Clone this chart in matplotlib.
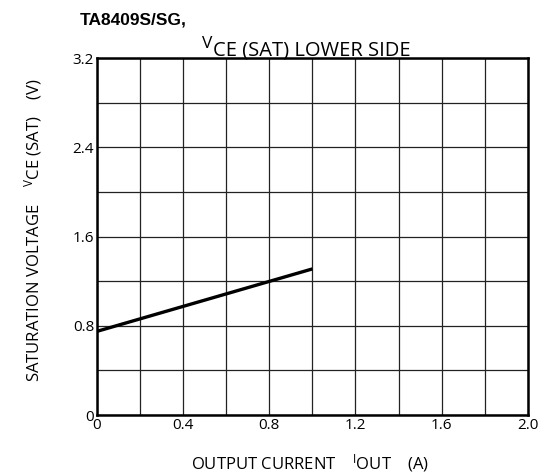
import matplotlib
matplotlib.use("Agg")
import matplotlib.pyplot as plt
from matplotlib.ticker import MultipleLocator

plt.rcParams['font.family'] = ['Open Sans', 'DejaVu Sans']
plt.rcParams['mathtext.fontset'] = 'custom'
plt.rcParams['mathtext.rm'] = 'Open Sans'

# data
i_out = [0.0, 1.0]
vce_sat = [0.75, 1.31]
x_ticks = [0, 0.4, 0.8, 1.2, 1.6, 2.0]
x_tick_labels = ["0", "0.4", "0.8", "1.2", "1.6", "2.0"]
y_ticks = [0, 0.8, 1.6, 2.4, 3.2]
y_tick_labels = ["0", "0.8", "1.6", "2.4", "3.2"]

fig = plt.figure(figsize=(5.47, 4.76), dpi=100)
ax = fig.add_axes([0.177, 0.128, 0.788, 0.75])
ax.set_xlim(0, 2.0)
ax.set_ylim(0, 3.2)

ax.xaxis.set_minor_locator(MultipleLocator(0.2))
ax.yaxis.set_minor_locator(MultipleLocator(0.4))
ax.set_xticks(x_ticks)
ax.set_xticklabels(x_tick_labels)
ax.set_yticks(y_ticks)
ax.set_yticklabels(y_tick_labels)
ax.grid(True, which='both', color='#222222', linewidth=0.9)
ax.set_axisbelow(True)
ax.tick_params(which='both', length=0, labelsize=11, pad=2, colors='black')
for s in ax.spines.values():
    s.set_linewidth(1.8)
    s.set_color('black')

ax.plot(i_out, vce_sat, color='black', linewidth=2.4, solid_capstyle='butt')

fig.text(0.145, 0.958, "TA8409S/SG,", fontsize=12.5, fontweight='bold', ha='left', va='center',
         family=['Liberation Sans', 'DejaVu Sans'])

# subtitle: raised V, then "CE (SAT) LOWER SIDE"
fig.text(0.389, 0.884, "CE (SAT) LOWER SIDE", fontsize=14.5, ha='left', va='baseline')
fig.text(0.389, 0.899, "V", fontsize=12.5, ha='right', va='baseline')

fig.text(0.567, 0.014, r"OUTPUT CURRENT    $\mathregular{^{I}}$OUT    (A)", fontsize=12,
         ha='center', va='baseline')
fig.text(0.06, 0.517, r"SATURATION VOLTAGE    $\mathregular{^{V}}$CE (SAT)    (V)", fontsize=12,
         ha='center', va='center', rotation=90)

fig.savefig("out.png", dpi=100)
